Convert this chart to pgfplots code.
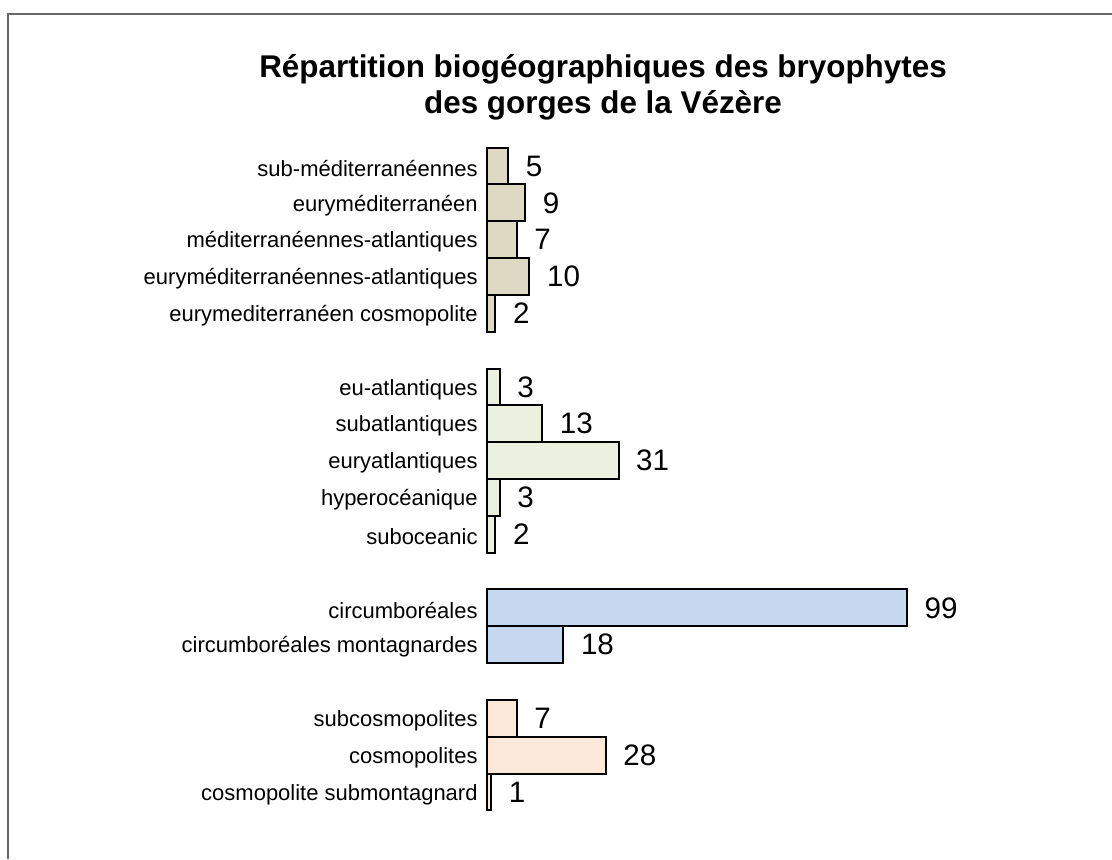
\documentclass[border=0pt]{standalone}
\usepackage{fontspec}
\setmainfont{Liberation Sans}
\usepackage{pgfplots}
\pgfplotsset{compat=1.18}
\definecolor{gA}{RGB}{221,217,195}
\definecolor{gB}{RGB}{235,241,222}
\definecolor{gC}{RGB}{198,217,241}
\definecolor{gD}{RGB}{253,233,217}
\begin{document}
\begin{tikzpicture}[x=0.5pt,y=0.5pt]
\useasboundingbox (0,0) rectangle (1112,859);
\draw[black!60, line width=1pt] (8,0) -- (8,845) -- (1112,845);
\node[font=\fontsize{15.7}{18}\selectfont\bfseries, align=center] at (603,772) {Répartition biogéographiques des bryophytes\\[0pt]des gorges de la Vézère};
\coordinate (A) at (487,48.6);
\begin{axis}[
  at={(A)}, anchor=south west,
  scale only axis, width=210pt, height=331.4pt,
  xmin=0, xmax=99, ymin=-0.5, ymax=17.5, y dir=reverse,
  clip=false,
  axis x line=none, axis y line=left,
  y axis line style={draw=none},
  major tick length=0pt,
  ytick={0,1,2,3,4,6,7,8,9,10,12,13,15,16,17},
  yticklabels={sub-méditerranéennes,euryméditerranéen,méditerranéennes-atlantiques,euryméditerranéennes-atlantiques,eurymediterranéen cosmopolite,eu-atlantiques,subatlantiques,euryatlantiques,hyperocéanique,suboceanic,circumboréales,circumboréales montagnardes,subcosmopolites,cosmopolites,cosmopolite submontagnard},
  yticklabel style={font=\fontsize{11}{13}\selectfont, anchor=east, inner sep=0pt, xshift=-4.5pt, yshift=-1.2pt},
  xbar, bar width=1, bar shift=0pt,
  /pgf/number format/assume math mode=true,
  nodes near coords,
  every node near coord/.append style={font=\fontsize{14.8}{17}\selectfont, anchor=west, xshift=5pt, black},
  every axis plot/.append style={draw=black, line width=1pt},
]
\addplot[fill=gA] coordinates {(5,0) (9,1) (7,2) (10,3) (2,4)};
\addplot[fill=gB] coordinates {(3,6) (13,7) (31,8) (3,9) (2,10)};
\addplot[fill=gC] coordinates {(99,12) (18,13)};
\addplot[fill=gD] coordinates {(7,15) (28,16) (1,17)};
\end{axis}
\end{tikzpicture}
\end{document}
